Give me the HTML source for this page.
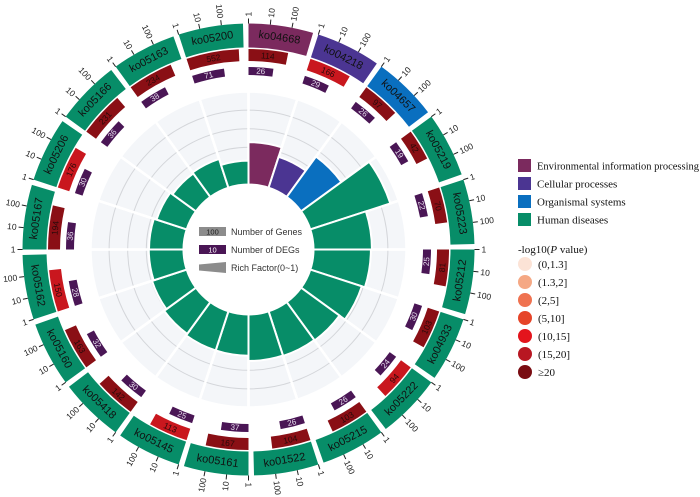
<!DOCTYPE html>
<html><head><meta charset="utf-8"><style>
html,body{margin:0;padding:0;background:#fff;}
svg{display:block;}
</style></head><body>
<svg id="chart" width="700" height="497" viewBox="0 0 700 497" xmlns="http://www.w3.org/2000/svg">
<g id="plot"></g>
<g id="center-legend" font-family="Liberation Sans, sans-serif" font-size="9" fill="#333">
  <rect x="199" y="227" width="27" height="9" fill="#8c8c8c"/>
  <text x="212.5" y="234.5" text-anchor="middle" font-size="7.5" fill="#222">100</text>
  <text x="231" y="235">Number of Genes</text>
  <rect x="199" y="245" width="27" height="9" fill="#4a1655"/>
  <text x="212.5" y="252.5" text-anchor="middle" font-size="7.5" fill="#fff">10</text>
  <text x="231" y="253">Number of DEGs</text>
  <polygon points="199,264.5 226,262 226,273 199,270.5" fill="#8c8c8c"/>
  <text x="231" y="271">Rich Factor(0~1)</text>
</g>
<g id="side-legend" font-family="Liberation Serif, serif" font-size="11" fill="#111">
  <rect x="518" y="159" width="13" height="13" fill="#7b2a5e"/>
  <text x="537" y="169.5" textLength="162" lengthAdjust="spacingAndGlyphs">Environmental information processing</text>
  <rect x="518" y="177" width="13" height="13" fill="#4b3592"/>
  <text x="537" y="187.5">Cellular processes</text>
  <rect x="518" y="195" width="13" height="13" fill="#0a6fbf"/>
  <text x="537" y="205.5">Organismal systems</text>
  <rect x="518" y="213" width="13" height="13" fill="#078d68"/>
  <text x="537" y="223.5">Human diseases</text>
  <text x="518" y="253">-log10(<tspan font-style="italic">P</tspan> value)</text>
</g>
</svg>
<script>
const sectors = ["ko04668","ko04218","ko04657","ko05219","ko05223","ko05212","ko04933","ko05222","ko05215","ko01522","ko05161","ko05145","ko05418","ko05160","ko05162","ko05167","ko05206","ko05166","ko05163","ko05200"];
const categories = ["env","cell","org","hum","hum","hum","hum","hum","hum","hum","hum","hum","hum","hum","hum","hum","hum","hum","hum","hum"];
const geneCounts = [114,166,97,42,70,81,103,94,103,104,167,113,142,163,150,194,176,231,234,552];
const degCounts = [26,29,26,19,22,25,30,24,26,26,37,25,30,32,28,36,30,36,38,71];
const pLevel = [6,5,6,6,6,6,6,5,6,6,6,5,6,6,5,6,5,6,6,6];
const axisTicks = [1,10,100];
const pLabels = ["(0,1.3]","(1.3,2]","(2,5]","(5,10]","(10,15]","(15,20]","\u226520"];

const catColor = {env:"#7b2a5e",cell:"#4b3592",org:"#0a6fbf",hum:"#078d68"};
const pColor = ["#fce3d6","#f5a884","#ef7250","#e64428","#e3141c","#b81722","#7a0c12"];
const geneBarColor = {5:"#c9171e",6:"#8a0f15"};
const NS="http://www.w3.org/2000/svg";
const cx=248.5, cy=249.5, SEC=360/sectors.length;
const DEC=5.55;
const RF_R0=65, RF_SCALE=186, RF_MAX=0.5;
function ang(i,v){return i*SEC + DEC*Math.log10(v);}
function pt(r,a){const t=a*Math.PI/180;return [cx+r*Math.sin(t), cy-r*Math.cos(t)];}
function arcPath(r0,r1,a0,a1){
  const p1=pt(r1,a0),p2=pt(r1,a1),p3=pt(r0,a1),p4=pt(r0,a0);
  const lg=(a1-a0)>180?1:0;
  return `M${p1[0]},${p1[1]}A${r1},${r1} 0 ${lg} 1 ${p2[0]},${p2[1]}L${p3[0]},${p3[1]}A${r0},${r0} 0 ${lg} 0 ${p4[0]},${p4[1]}Z`;
}
function el(tag,attrs,parent){const e=document.createElementNS(NS,tag);for(const k in attrs)e.setAttribute(k,attrs[k]);parent.appendChild(e);return e;}
function tangRot(a){let m=((a%360)+360)%360;return (m>90&&m<270)?a+180:a;}
const plot=document.getElementById('plot');

for(let i=0;i<sectors.length;i++){
  const bg=el('path',{d:arcPath(RF_R0,RF_R0+RF_SCALE*RF_MAX,i*SEC,(i+1)*SEC),fill:"#f4f6f9",stroke:"#fff","stroke-width":2.5},plot);
  
  
}
[0.2,0.3,0.4].forEach(g=>{
  const c=el('circle',{cx:cx,cy:cy,r:RF_R0+RF_SCALE*g,fill:"none",stroke:"#d4d6da","stroke-width":1},plot);
  
  
});
for(let i=0;i<sectors.length;i++){
  const p0=pt(RF_R0,i*SEC),p1=pt(RF_R0+RF_SCALE*RF_MAX+1,i*SEC);
  const ln=el('line',{x1:p0[0],y1:p0[1],x2:p1[0],y2:p1[1],stroke:"#fff","stroke-width":2.5},plot);
  
  
}

for(let i=0;i<sectors.length;i++){
  const a0=i*SEC, col=catColor[categories[i]];
  const rf=degCounts[i]/geneCounts[i];
  const rb=el('path',{d:arcPath(RF_R0,RF_R0+RF_SCALE*rf,a0,a0+SEC),fill:col,stroke:"#fff","stroke-width":2},plot);
  
  
  const ring=el('path',{d:arcPath(202,226,a0,a0+16.6),fill:col},plot);
  
  
  const am=a0+8.3, lp=pt(214,am);
  const rt=el('text',{x:lp[0],y:lp[1],"text-anchor":"middle","dominant-baseline":"central","font-family":"Liberation Sans, sans-serif","font-size":11,fill:"#111",transform:`rotate(${tangRot(am)} ${lp[0]} ${lp[1]})`},plot);
  rt.textContent=sectors[i];
  
  
  axisTicks.forEach(t=>{
    const ta=ang(i,t), q0=pt(226,ta), q1=pt(231,ta);
    const tl=el('line',{x1:q0[0],y1:q0[1],x2:q1[0],y2:q1[1],stroke:"#222","stroke-width":1},plot);
    
    
    const m=((ta%360)+360)%360, left=m>180;
    const tp=pt(233,ta);
    const tx=el('text',{x:tp[0],y:tp[1],"text-anchor":left?"end":"start","dominant-baseline":"central","font-family":"Liberation Sans, sans-serif","font-size":8.5,fill:"#222",transform:`rotate(${left?ta+90:ta-90} ${tp[0]} ${tp[1]})`},plot);
    tx.textContent=String(t);
    
    
  });
  const ga=ang(i,geneCounts[i]);
  const gb=el('path',{d:arcPath(188.5,200.5,a0,ga),fill:geneBarColor[pLevel[i]]||pColor[pLevel[i]]},plot);
  
  
  const gm=(a0+ga)/2, gp=pt(194.5,gm);
  const gt=el('text',{x:gp[0],y:gp[1],"text-anchor":"middle","dominant-baseline":"central","font-family":"Liberation Sans, sans-serif","font-size":8.5,fill:"#2a0a0a",transform:`rotate(${tangRot(gm)} ${gp[0]} ${gp[1]})`},plot);
  gt.textContent=String(geneCounts[i]);
  
  
  const da=ang(i,degCounts[i]);
  const db=el('path',{d:arcPath(174.5,182.5,a0,da),fill:"#4a1655"},plot);
  
  
  const dm=(a0+da)/2, dp=pt(178.5,dm);
  const dt=el('text',{x:dp[0],y:dp[1],"text-anchor":"middle","dominant-baseline":"central","font-family":"Liberation Sans, sans-serif","font-size":8,fill:"#e8e0ee",transform:`rotate(${tangRot(dm)} ${dp[0]} ${dp[1]})`},plot);
  dt.textContent=String(degCounts[i]);
  
  
}
const side=document.getElementById('side-legend');
pLabels.forEach((lab,k)=>{
  const y=264+18*k;
  const c=el('circle',{cx:525,cy:y,r:7,fill:pColor[k]},side);
  
  
  const t=el('text',{x:538,y:y+4},side);
  t.textContent=lab;
  
  
});
</script>
</body></html>
